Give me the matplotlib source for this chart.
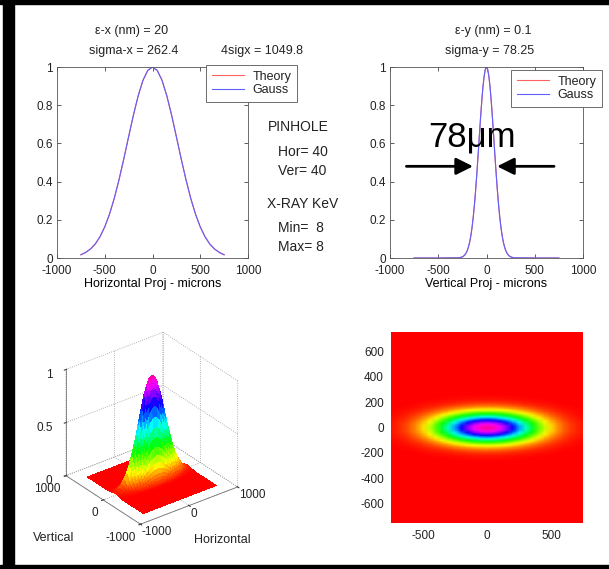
import matplotlib.pyplot as plt
import numpy as np
from matplotlib.patches import Rectangle

plt.rcParams['font.family'] = ['Liberation Sans', 'DejaVu Sans']
plt.rcParams['font.size'] = 8.5
plt.rcParams['axes.unicode_minus'] = False
plt.rcParams['text.color'] = '#222222'
plt.rcParams['xtick.color'] = '#444444'
plt.rcParams['ytick.color'] = '#444444'
plt.rcParams['xtick.labelcolor'] = '#222222'
plt.rcParams['ytick.labelcolor'] = '#222222'

# horizontal projection (sigma-x = 262.4)
hor_x = [-750, -700, -650, -600, -550, -500, -450, -400, -350, -300, -250, -200, -150, -100, -50,
         0, 50, 100, 150, 200, 250, 300, 350, 400, 450, 500, 550, 600, 650, 700, 750]
hor_theory = [0.017, 0.029, 0.047, 0.073, 0.111, 0.163, 0.230, 0.313, 0.411, 0.520, 0.635, 0.748, 0.849, 0.930, 0.982,
              1.000, 0.982, 0.930, 0.849, 0.748, 0.635, 0.520, 0.411, 0.313, 0.230, 0.163, 0.111, 0.073, 0.047, 0.029, 0.017]
hor_gauss = hor_theory

# vertical projection (sigma-y = 78.25)
ver_x = [-750, -500, -300, -287.5, -275, -262.5, -250, -237.5, -225, -212.5, -200, -187.5, -175, -162.5,
         -150, -137.5, -125, -112.5, -100, -87.5, -75, -62.5, -50, -37.5, -25, -12.5,
         0, 12.5, 25, 37.5, 50, 62.5, 75, 87.5, 100, 112.5, 125, 137.5, 150, 162.5,
         175, 187.5, 200, 212.5, 225, 237.5, 250, 262.5, 275, 287.5, 300, 500, 750]
ver_theory = [0, 0, 0.001, 0.001, 0.002, 0.004, 0.006, 0.010, 0.016, 0.025, 0.038, 0.057, 0.082, 0.116,
              0.159, 0.214, 0.279, 0.356, 0.442, 0.535, 0.632, 0.727, 0.815, 0.892, 0.950, 0.987,
              1.000, 0.987, 0.950, 0.892, 0.815, 0.727, 0.632, 0.535, 0.442, 0.356, 0.279, 0.214, 0.159, 0.116,
              0.082, 0.057, 0.038, 0.025, 0.016, 0.010, 0.006, 0.004, 0.002, 0.001, 0.001, 0, 0]
ver_gauss = ver_theory

W, H = 609, 569
fig = plt.figure(figsize=(W / 100, H / 100), dpi=100)


def px_rect(x0, y0, x1, y1):
    return [x0 / W, 1 - y1 / H, (x1 - x0) / W, (y1 - y0) / H]


def style2d(ax):
    ax.tick_params(direction='in', length=3, top=True, right=True, width=0.6)
    ax.tick_params(axis='x', pad=5)
    ax.tick_params(axis='y', pad=3)
    for s in ax.spines.values():
        s.set_color('#555555')
        s.set_linewidth(0.6)


def legend(ax, x, y):
    leg = ax.legend(loc='upper left', bbox_to_anchor=(x / W, 1 - y / H), bbox_transform=fig.transFigure,
                    borderaxespad=0, fancybox=False, edgecolor='#555555', framealpha=1, handlelength=2.6,
                    labelspacing=0.1, borderpad=0.45, handletextpad=0.7, fontsize=9)
    leg.get_frame().set_linewidth(0.6)


# top left
ax1 = fig.add_axes(px_rect(57, 67, 248, 258))
ax1.plot(hor_x, hor_theory, color='#ff6060', lw=0.8, label='Theory')
ax1.plot(hor_x, hor_gauss, color='#6060ff', lw=0.8, label='Gauss')
ax1.set_xlim(-1000, 1000)
ax1.set_ylim(0, 1)
ax1.set_xticks([-1000, -500, 0, 500, 1000])
ax1.set_yticks([0, 0.2, 0.4, 0.6, 0.8, 1])
ax1.set_yticklabels(['0', '0.2', '0.4', '0.6', '0.8', '1'])
ax1.set_xlabel('Horizontal Proj - microns', labelpad=1, fontsize=9)
style2d(ax1)
legend(ax1, 206, 65)

# top right
ax2 = fig.add_axes(px_rect(390, 67, 583, 258))
ax2.plot(ver_x, ver_theory, color='#ff6060', lw=0.8, label='Theory')
ax2.plot(ver_x, ver_gauss, color='#6060ff', lw=0.8, label='Gauss')
ax2.set_xlim(-1000, 1000)
ax2.set_ylim(0, 1)
ax2.set_xticks([-1000, -500, 0, 500, 1000])
ax2.set_yticks([0, 0.2, 0.4, 0.6, 0.8, 1])
ax2.set_yticklabels(['0', '0.2', '0.4', '0.6', '0.8', '1'])
ax2.set_xlabel('Vertical Proj - microns', labelpad=1, fontsize=9)
style2d(ax2)
legend(ax2, 511, 70)

ax2.text(-150, 0.585, '78\u03bcm', fontsize=25, color='black', ha='center', va='baseline')
arrow = dict(arrowstyle='-|>,head_length=0.6,head_width=0.3', mutation_scale=17, lw=2,
             color='black', shrinkA=0, shrinkB=0)
ax2.annotate('', xy=(-140, 0.48), xytext=(-830, 0.48), arrowprops=arrow)
ax2.annotate('', xy=(110, 0.48), xytext=(700, 0.48), arrowprops=arrow)


# texts around the top panels
def ftext(x, y, s, size=9, ha='center'):
    fig.text(x / W, 1 - y / H, s, ha=ha, va='center', fontsize=size)


ftext(132, 31, '\u03b5-x (nm) = 20')
ftext(134, 51, 'sigma-x = 262.4')
ftext(262, 51, '4sigx = 1049.8')
ftext(493, 31, '\u03b5-y (nm) = 0.1')
ftext(490, 51, 'sigma-y = 78.25')
ftext(298, 127, 'PINHOLE', 10)
ftext(278, 152, 'Hor= 40', 10, 'left')
ftext(278, 171, 'Ver= 40', 10, 'left')
ftext(303, 204, 'X-RAY KeV', 10)
ftext(278, 228, 'Min=  8', 10, 'left')
ftext(278, 247, 'Max= 8', 10, 'left')

# 2D beam profile
Xg, Yg = np.meshgrid(hor_x, ver_x)
Zg = np.outer(ver_theory, hor_theory)

# bottom left: surface
ax3 = fig.add_axes(px_rect(33, 328, 265, 534), projection='3d', proj_type='ortho')
ax3.set_box_aspect((1, 1, 1))
ax3.plot_surface(Xg, Yg, Zg, cmap='hsv', vmin=0, vmax=1.1, rstride=1, cstride=1,
                 linewidth=0, antialiased=False, shade=False)
ax3.set_xlim(-1000, 1000)
ax3.set_ylim(-1000, 1000)
ax3.set_zlim(0, 1)
ax3.set_xticks([-1000, 0, 1000])
ax3.set_yticks([-1000, 0, 1000])
ax3.set_zticks([0, 0.5, 1])
ax3.set_zticklabels(['0', '0.5', '1'])
ax3.view_init(elev=30, azim=-127.5)
for a in (ax3.xaxis, ax3.yaxis, ax3.zaxis):
    a.set_pane_color((1, 1, 1, 0))
    a._axinfo['grid'].update(linestyle=':', color='#999999', linewidth=0.6)
    a.line.set_color('#777777')
    a.line.set_linewidth(0.6)
ax3.tick_params(pad=-2, length=2)
ax3.xaxis.set_tick_params(pad=-7)
ax3.yaxis.set_tick_params(pad=-4)
plt.setp(ax3.xaxis.get_majorticklabels(), ha='left')
plt.setp(ax3.yaxis.get_majorticklabels(), ha='right')
plt.setp(ax3.zaxis.get_majorticklabels(), ha='right')
ftext(54, 538, 'Vertical')
ftext(222, 540, 'Horizontal')

# bottom right: image
ax4 = fig.add_axes(px_rect(391, 332, 583, 523))
ax4.pcolormesh(Xg, Yg, Zg, cmap='hsv', vmin=0, vmax=1.1, shading='gouraud')
ax4.set_xlim(-750, 750)
ax4.set_ylim(-750, 750)
ax4.set_xticks([-500, 0, 500])
ax4.set_yticks([-600, -400, -200, 0, 200, 400, 600])
ax4.tick_params(length=0, pad=5)
for s in ax4.spines.values():
    s.set_visible(False)

# black frame of the page
fig.add_artist(Rectangle((3 / W, 0), 11 / W, 1, transform=fig.transFigure, color='black'))
fig.add_artist(Rectangle((0, 1 - 4 / H), 1, 4 / H, transform=fig.transFigure, color='black'))
fig.add_artist(Rectangle((0, 1 / H), 1, 3 / H, transform=fig.transFigure, color='black'))

fig.savefig('out.png', dpi=100)
